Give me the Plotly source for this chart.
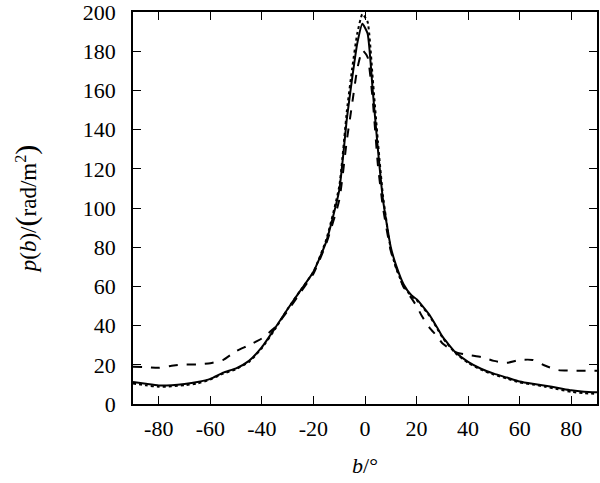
import plotly.graph_objects as go

# latitude b in degrees
b = [-90, -85, -80, -75, -70, -65, -60, -55, -50, -45, -40, -35, -30, -25, -20,
     -15, -10, -7, -5, -3, -1, 1, 3, 5, 7, 10, 12, 15, 18, 20, 22, 25, 28, 30,
     35, 40, 45, 50, 55, 60, 65, 70, 75, 80, 85, 90]

p_solid = [11.2, 10.3, 9.5, 9.6, 10.2, 11.2, 12.8, 16.0, 18.2, 22.0, 29.0, 38.5,
           48.5, 58.0, 67.5, 83.0, 109.0, 146.0, 166.0, 184.0, 194.0, 189.0,
           160.0, 130.0, 104.0, 80.0, 71.0, 61.0, 55.5, 53.5, 50.5, 45.5, 39.0,
           34.5, 26.5, 21.5, 18.0, 15.5, 13.5, 11.5, 10.3, 9.3, 8.2, 7.0, 6.3, 6.0]

p_dashed = [19.0, 18.8, 18.5, 19.5, 20.2, 20.2, 20.8, 22.5, 27.0, 30.0, 33.5, 39.0,
            47.5, 57.0, 66.5, 82.0, 104.0, 135.0, 153.0, 171.0, 180.5, 177.0,
            155.0, 122.0, 100.0, 78.0, 70.0, 59.5, 54.0, 50.0, 45.0, 39.0, 34.5,
            31.0, 26.5, 25.0, 24.0, 22.0, 21.0, 22.5, 22.5, 19.5, 17.3, 17.0,
            17.0, 17.0]

p_dotted = [10.5, 9.5, 8.8, 9.0, 9.6, 10.5, 12.5, 15.5, 17.8, 21.5, 28.5, 38.0,
            48.5, 58.0, 67.5, 84.0, 111.0, 150.0, 171.0, 189.0, 199.0, 195.0,
            166.0, 134.0, 106.0, 79.0, 69.5, 60.0, 55.0, 53.0, 50.0, 45.0, 38.5,
            34.0, 26.0, 21.0, 17.5, 15.0, 13.0, 11.0, 10.0, 8.8, 7.5, 6.2, 5.5, 5.2]

x_ticks = [-80, -60, -40, -20, 0, 20, 40, 60, 80]
x_labels = ["-80", "-60", "-40", "-20", "0", "20", "40", "60", "80"]
y_ticks = [0, 20, 40, 60, 80, 100, 120, 140, 160, 180, 200]

fig = go.Figure()
for ys, dash in [(p_dotted, "dot"), (p_dashed, "dash"), (p_solid, "solid")]:
    fig.add_trace(go.Scatter(x=b, y=ys, mode="lines",
                             line=dict(color="black", width=2, dash=dash,
                                       shape="spline", smoothing=0.5),
                             showlegend=False))

font = "Liberation Serif"
axis = dict(showline=True, linecolor="black", linewidth=1.5, mirror="ticks",
            ticks="inside", ticklen=8, tickwidth=1.2, tickcolor="black",
            showgrid=False, zeroline=False, automargin=False,
            ticklabeloverflow="allow",
            tickfont=dict(family=font, size=22, color="black"))

fig.update_layout(
    width=600, height=483,
    margin=dict(l=133, r=3, t=12, b=79),
    plot_bgcolor="white", paper_bgcolor="white",
    xaxis=dict(axis, range=[-90, 90], tickvals=x_ticks, ticktext=x_labels,
               ticklabelstandoff=4,
               title=dict(text="<i>b</i>/°", font=dict(family=font, size=22, color="black"),
                          standoff=17)),
    yaxis=dict(axis, range=[0, 200], tickvals=y_ticks, ticklabelstandoff=11,
               title=dict(text="<i>p</i>(<i>b</i>)/<span style='font-size:30px'>(</span>rad/m<sup>2</sup><span style='font-size:30px'>)</span>",
                          font=dict(family=font, size=23, color="black"),
                          standoff=40)),
)

# drop the default 8px page margin so the figure fills the window
fig.write_html("out.html", config={"displayModeBar": False},
               post_script="document.body.style.margin='0';")
